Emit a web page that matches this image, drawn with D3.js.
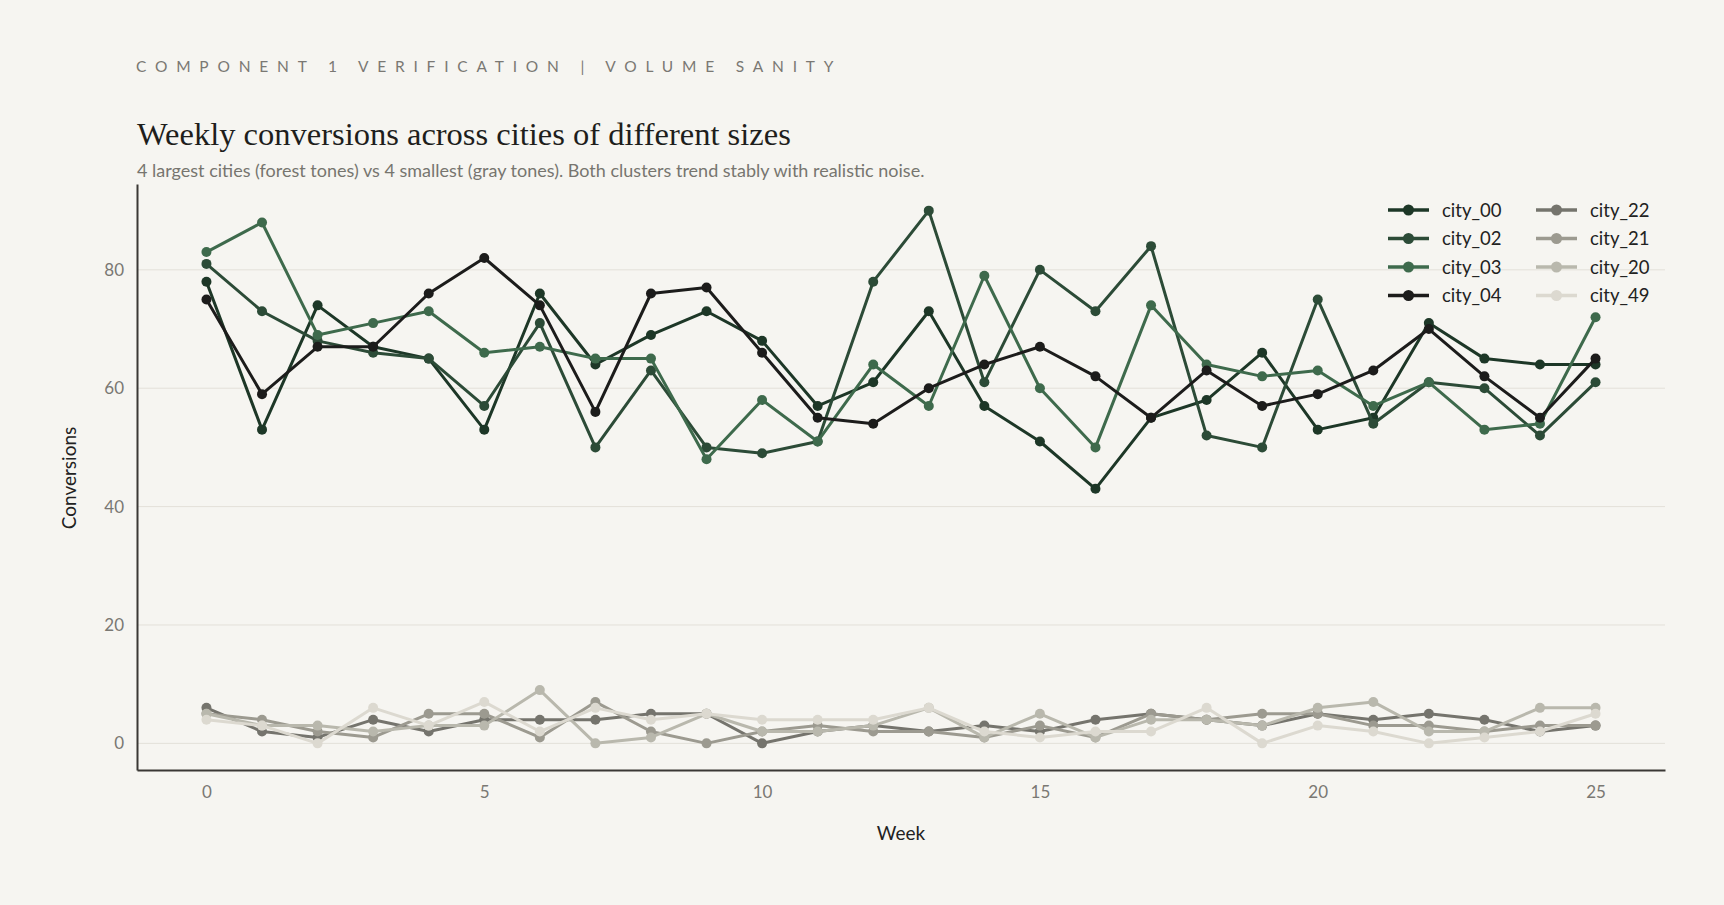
<!DOCTYPE html>
<html>
<head>
<meta charset="utf-8">
<script src="https://cdn.jsdelivr.net/npm/d3@7"></script>
<style>
  body { margin: 0; background: #f6f5f1; }
  svg { display: block; }
</style>
</head>
<body>
<svg id="chart" width="1724" height="905"></svg>
<script>
var width = 1724, height = 905;

// weeks 0..25
var weeks = d3.range(0, 26);

var cities = ["city_00", "city_02", "city_03", "city_04", "city_22", "city_21", "city_20", "city_49"];
var colors = ["#1d3727", "#2c4b37", "#3e6a4c", "#1c1c1b", "#75746d", "#9c9a90", "#b9b8ad", "#dcd9d0"];

// values
var city_00 = [78, 53, 74, 67, 65, 53, 76, 64, 69, 73, 68, 57, 61, 73, 57, 51, 43, 55, 58, 66, 53, 55, 71, 65, 64, 64];
var city_02 = [81, 73, 68, 66, 65, 57, 71, 50, 63, 50, 49, 51, 78, 90, 61, 80, 73, 84, 52, 50, 75, 54, 61, 60, 52, 61];
var city_03 = [83, 88, 69, 71, 73, 66, 67, 65, 65, 48, 58, 51, 64, 57, 79, 60, 50, 74, 64, 62, 63, 57, 61, 53, 54, 72];
var city_04 = [75, 59, 67, 67, 76, 82, 74, 56, 76, 77, 66, 55, 54, 60, 64, 67, 62, 55, 63, 57, 59, 63, 70, 62, 55, 65];
var city_22 = [6, 2, 1, 4, 2, 4, 4, 4, 5, 5, 0, 2, 3, 2, 3, 2, 4, 5, 4, 3, 5, 4, 5, 4, 2, 3];
var city_21 = [5, 4, 2, 1, 5, 5, 1, 7, 2, 0, 2, 3, 2, 2, 1, 3, 1, 5, 4, 5, 5, 3, 3, 2, 3, 3];
var city_20 = [5, 3, 3, 2, 3, 3, 9, 0, 1, 5, 2, 2, 3, 6, 1, 5, 1, 4, 4, 3, 6, 7, 2, 2, 6, 6];
var city_49 = [4, 3, 0, 6, 3, 7, 2, 6, 4, 5, 4, 4, 4, 6, 2, 1, 2, 2, 6, 0, 3, 2, 0, 1, 2, 5];

var xTicks = [0, 5, 10, 15, 20, 25];
var yTicks = [0, 20, 40, 60, 80];

var seriesValues = [city_00, city_02, city_03, city_04, city_22, city_21, city_20, city_49];
var series = cities.map(function(name, i) {
  return { name: name, color: colors[i], values: seriesValues[i].map(function(v, w) { return { week: weeks[w], value: v }; }) };
});

var sans = "Lato, 'Noto Sans', sans-serif";

var x = d3.scaleLinear().domain([-1.25, 26.25]).range([137, 1665]);
var y = d3.scaleLinear().domain([-4.5, 94.5]).range([770, 184]);

var svg = d3.select("#chart");

svg.append("rect").attr("width", width).attr("height", height).attr("fill", "#f6f5f1");

// header texts
svg.append("text")
  .attr("x", 136).attr("y", 72)
  .attr("font-family", sans).attr("font-size", 15.5)
  .attr("letter-spacing", "8.8px")
  .attr("fill", "#7a7873")
  .text("COMPONENT 1 VERIFICATION | VOLUME SANITY");

svg.append("text")
  .attr("x", 137).attr("y", 145)
  .attr("font-family", "'Liberation Serif', 'DejaVu Serif', serif").attr("font-size", 32.5)
  .attr("fill", "#1e1e1c")
  .text("Weekly conversions across cities of different sizes");

svg.append("text")
  .attr("x", 137).attr("y", 177)
  .attr("font-family", sans).attr("font-size", 18)
  .attr("fill", "#77756f")
  .text("4 largest cities (forest tones) vs 4 smallest (gray tones). Both clusters trend stably with realistic noise.");

// gridlines
svg.append("g")
  .selectAll("line")
  .data(yTicks)
  .enter().append("line")
  .attr("x1", 137).attr("x2", 1665)
  .attr("y1", function(d) { return y(d); })
  .attr("y2", function(d) { return y(d); })
  .attr("stroke", "#e3e0d9")
  .attr("stroke-width", 1);

// axes
var xAxis = svg.append("g")
  .attr("transform", "translate(0," + 770 + ")")
  .call(d3.axisBottom(x).tickValues(xTicks).tickSize(0).tickPadding(16));

var yAxis = svg.append("g")
  .attr("transform", "translate(137,0)")
  .call(d3.axisLeft(y).tickValues(yTicks).tickSize(0).tickPadding(13));

[xAxis, yAxis].forEach(function(g) {
  g.select(".domain").attr("stroke", "#3a3835").attr("stroke-width", 2);
  g.selectAll("text")
    .attr("font-family", sans).attr("font-size", 17)
    .attr("fill", "#7a7873");
});

// axis titles
svg.append("text")
  .attr("x", 901).attr("y", 840)
  .attr("text-anchor", "middle")
  .attr("font-family", sans).attr("font-size", 19)
  .attr("fill", "#222")
  .text("Week");

svg.append("text")
  .attr("transform", "translate(76,478) rotate(-90)")
  .attr("text-anchor", "middle")
  .attr("font-family", sans).attr("font-size", 19)
  .attr("fill", "#222")
  .text("Conversions");

// lines and dots
var line = d3.line()
  .x(function(d) { return x(d.week); })
  .y(function(d) { return y(d.value); });

var groups = svg.append("g").selectAll("g")
  .data(series)
  .enter().append("g");

groups.append("path")
  .attr("fill", "none")
  .attr("stroke", function(d) { return d.color; })
  .attr("stroke-width", 3)
  .attr("stroke-linejoin", "round")
  .attr("d", function(d) { return line(d.values); });

groups.selectAll("circle")
  .data(function(d) { return d.values.map(function(v) { return { week: v.week, value: v.value, color: d.color }; }); })
  .enter().append("circle")
  .attr("cx", function(d) { return x(d.week); })
  .attr("cy", function(d) { return y(d.value); })
  .attr("r", 5)
  .attr("fill", function(d) { return d.color; });

// legend, two columns of four
var legend = svg.append("g").selectAll("g")
  .data(series)
  .enter().append("g")
  .attr("transform", function(d, i) {
    var col = Math.floor(i / 4), row = i % 4;
    return "translate(" + (1388 + col * 148) + "," + (210 + row * 28.5) + ")";
  });

legend.append("line")
  .attr("x1", 0).attr("x2", 41)
  .attr("stroke", function(d) { return d.color; })
  .attr("stroke-width", 3.5);

legend.append("circle")
  .attr("cx", 20.5).attr("r", 5.5)
  .attr("fill", function(d) { return d.color; });

legend.append("text")
  .attr("x", 54).attr("y", 6.5)
  .attr("font-family", sans).attr("font-size", 18.5)
  .attr("fill", "#222")
  .text(function(d) { return d.name; });
</script>
</body>
</html>
